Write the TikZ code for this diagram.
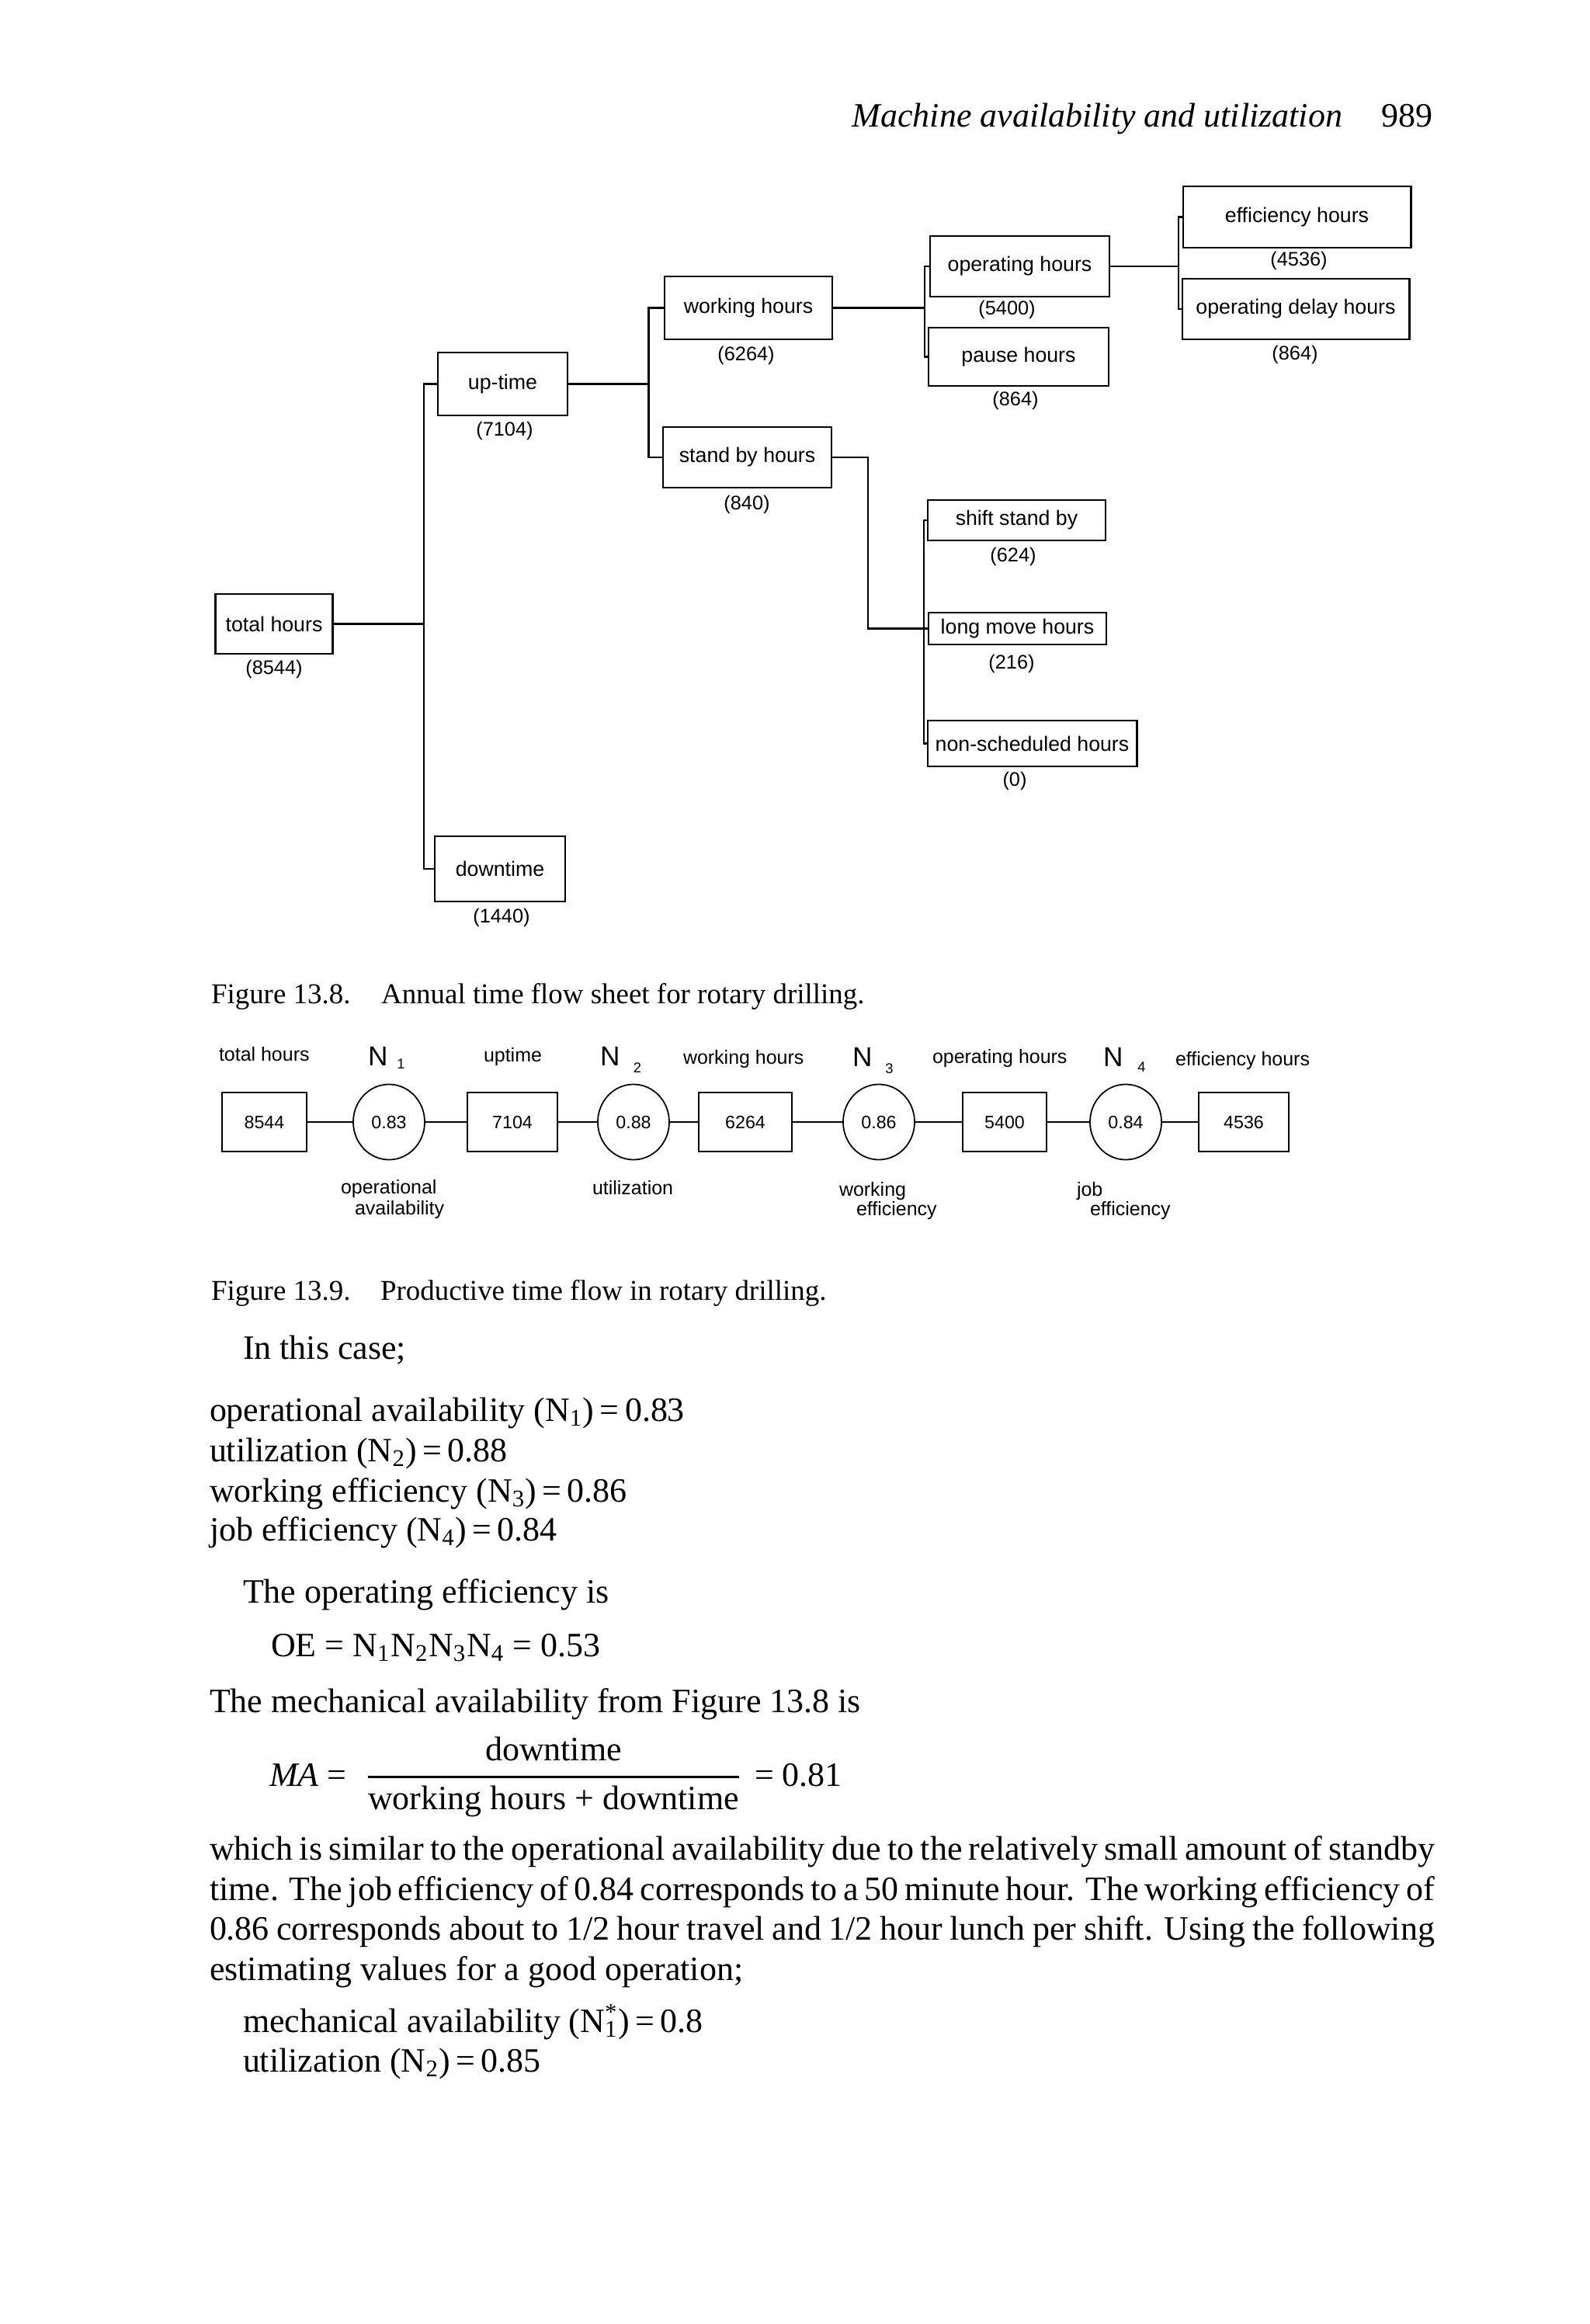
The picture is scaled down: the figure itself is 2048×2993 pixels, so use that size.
\documentclass[tikz,border=0pt]{standalone}
\usepackage{fontspec}
\setmainfont{Liberation Serif}
\newfontfamily\letterfont{Liberation Sans}
\usetikzlibrary{shapes.geometric}

% N with a lowered index, as lettered in the flow chart
\newcommand{\Nsub}[3]{N\hspace{#2}\raisebox{-#3}{\fontsize{5.2}{6}\selectfont #1}}

\begin{document}
\begin{tikzpicture}[x=0.01cm, y=-0.01cm,
    every node/.style={inner sep=0pt, outer sep=0pt},
    treebox/.style={draw, line width=0.8pt, font=\letterfont\fontsize{7.6}{9}\selectfont},
    treenum/.style={font=\letterfont\fontsize{7.2}{9}\selectfont},
    flowbox/.style={draw, line width=0.6pt, minimum height=0.76cm, font=\letterfont\fontsize{6.6}{8}\selectfont},
    ratio/.style={draw, ellipse, line width=0.5pt, minimum width=0.92cm, minimum height=0.97cm, font=\letterfont\fontsize{6.6}{8}\selectfont},
    flowlbl/.style={anchor=base west, font=\letterfont\fontsize{7.1}{9}\selectfont},
    nlbl/.style={anchor=base west, font=\letterfont\fontsize{10}{12}\selectfont},
    body/.style={anchor=base west, font=\fontsize{12.5}{15}\selectfont},
    caption/.style={anchor=base west, font=\fontsize{10.5}{12.6}\selectfont},
    link/.style={line width=0.8pt},
    flowlink/.style={line width=0.6pt}]

\fill[white] (0,0) rectangle (2048,2993);
\useasboundingbox (0,0) rectangle (2048,2993);

% running head
\node[body, anchor=base east] (runhead) at (1729,163) {\textit{Machine availability and utilization}};
\node[body, anchor=base east] (folio) at (1845,163) {989};

% Figure 13.8
\node[treebox, minimum width=1.505cm, minimum height=0.77cm] (total) at (353,803.5) {total hours};
\node[treebox, minimum width=1.67cm, minimum height=0.81cm] (uptime) at (647.5,494.5) {up-time};
\node[treebox, minimum width=1.68cm, minimum height=0.84cm] (downtime) at (644,1119) {downtime};
\node[treebox, minimum width=2.16cm, minimum height=0.81cm] (working) at (964,396.5) {working hours};
\node[treebox, minimum width=2.17cm, minimum height=0.78cm] (standby) at (962.5,589) {stand by hours};
\node[treebox, minimum width=2.31cm, minimum height=0.78cm] (operating) at (1313.5,343) {operating hours};
\node[treebox, minimum width=2.32cm, minimum height=0.75cm] (pause) at (1312,459.5) {pause hours};
\node[treebox, minimum width=2.93cm, minimum height=0.79cm] (efficiency) at (1670.5,279.5) {efficiency hours};
\node[treebox, minimum width=2.92cm, minimum height=0.78cm] (delay) at (1669,398) {operating delay hours};
\node[treebox, minimum width=2.29cm, minimum height=0.52cm] (shift) at (1309.5,670) {shift stand by};
\node[treebox, minimum width=2.29cm, minimum height=0.41cm] (longmove) at (1310.5,809.5) {long move hours};
\node[treebox, minimum width=2.69cm, minimum height=0.59cm] (nonsched) at (1329.5,957.5) {non-scheduled hours};

\node[treenum] (total-h) at (353,862) {(8544)};
\node[treenum] (uptime-h) at (650,555) {(7104)};
\node[treenum] (downtime-h) at (646,1182) {(1440)};
\node[treenum] (working-h) at (961,458) {(6264)};
\node[treenum] (standby-h) at (962,650) {(840)};
\node[treenum] (operating-h) at (1297,399) {(5400)};
\node[treenum] (pause-h) at (1308,516) {(864)};
\node[treenum] (efficiency-h) at (1673,336) {(4536)};
\node[treenum] (delay-h) at (1668,457) {(864)};
\node[treenum] (shift-h) at (1305,717) {(624)};
\node[treenum] (longmove-h) at (1303,855) {(216)};
\node[treenum] (nonsched-h) at (1307,1006) {(0)};

\coordinate (bus1) at (546,0);
\coordinate (bus2) at (835.5,0);
\coordinate (bus3) at (1191,0);
\coordinate (bus4) at (1518,0);
\coordinate (bus5) at (1118,0);
\coordinate (bus6) at (1190,0);

\draw[link] (total.east) -- (total.east -| bus1);
\draw[link] (uptime.west) -- (uptime.west -| bus1) -- (downtime.west -| bus1) -- (downtime.west);
\draw[link] (uptime.east) -- (uptime.east -| bus2);
\draw[link] (working.west) -- (working.west -| bus2) -- (standby.west -| bus2) -- (standby.west);
\draw[link] (working.east) -- (working.east -| bus3);
\draw[link] (operating.west) -- (operating.west -| bus3) -- (pause.west -| bus3) -- (pause.west);
\draw[link] (operating.east) -- (operating.east -| bus4);
\draw[link] (efficiency.west) -- (efficiency.west -| bus4) -- (delay.west -| bus4) -- (delay.west);
\draw[link] (standby.east) -- (standby.east -| bus5) -- (longmove.west -| bus5) -- (longmove.west);
\draw[link] (shift.west) -- (shift.west -| bus6) -- (nonsched.west -| bus6) -- (nonsched.west);

\node[caption] (cap138) at (272,1292) {\makebox[2.19cm][l]{Figure 13.8.}Annual time flow sheet for rotary drilling.};

% Figure 13.9
\node[flowlbl] (lbl-total) at (282,1366) {total hours};
\node[flowlbl] (lbl-uptime) at (623,1367) {uptime};
\node[flowlbl] (lbl-working) at (880,1370) {working hours};
\node[flowlbl] (lbl-operating) at (1201,1369) {operating hours};
\node[flowlbl] (lbl-efficiency) at (1514,1372) {efficiency hours};

\node[nlbl] (n1) at (474,1372) {\Nsub{1}{3.4pt}{1.4pt}};
\node[nlbl] (n2) at (773,1372) {\Nsub{2}{5pt}{2.8pt}};
\node[nlbl] (n3) at (1098,1373) {\Nsub{3}{4.8pt}{2.8pt}};
\node[nlbl] (n4) at (1421,1373) {\Nsub{4}{5.4pt}{2pt}};

\node[flowbox, minimum width=1.09cm] (f8544) at (340.5,1445) {8544};
\node[ratio] (r1) at (501,1445) {0.83};
\node[flowbox, minimum width=1.16cm] (f7104) at (660,1445) {7104};
\node[ratio] (r2) at (816,1445) {0.88};
\node[flowbox, minimum width=1.20cm] (f6264) at (960,1445) {6264};
\node[ratio] (r3) at (1132,1445) {0.86};
\node[flowbox, minimum width=1.08cm] (f5400) at (1294,1445) {5400};
\node[ratio] (r4) at (1450,1445) {0.84};
\node[flowbox, minimum width=1.16cm] (f4536) at (1602,1445) {4536};

\foreach \a/\b in {f8544/r1, r1/f7104, f7104/r2, r2/f6264, f6264/r3, r3/f5400, f5400/r4, r4/f4536}
    \draw[flowlink] (\a) -- (\b);

\node[flowlbl] (lbl-n1a) at (439,1537) {operational};
\node[flowlbl] (lbl-n1b) at (457,1564) {availability};
\node[flowlbl] (lbl-n2) at (763,1538) {utilization};
\node[flowlbl] (lbl-n3a) at (1081,1540) {working};
\node[flowlbl] (lbl-n3b) at (1103,1565) {efficiency};
\node[flowlbl] (lbl-n4a) at (1387,1540) {job};
\node[flowlbl] (lbl-n4b) at (1404,1565) {efficiency};

\node[caption] (cap139) at (272,1674) {\makebox[2.18cm][l]{Figure 13.9.}Productive time flow in rotary drilling.};

% text
\node[body] (incase) at (313,1750) {In this case;};
\node[body] (eq-n1) at (270,1830) {operational availability (N\textsubscript{1})\,=\,0.83};
\node[body] (eq-n2) at (270,1882) {utilization (N\textsubscript{2})\,=\,0.88};
\node[body] (eq-n3) at (270,1934) {working efficiency (N\textsubscript{3})\,=\,0.86};
\node[body] (eq-n4) at (270,1984) {job efficiency (N\textsubscript{4})\,=\,0.84};
\node[body] (oe-intro) at (313,2064) {The operating efficiency is};
\node[body] (oe) at (349,2133) {OE = N\textsubscript{1}N\textsubscript{2}N\textsubscript{3}N\textsubscript{4} = 0.53};
\node[body] (ma-intro) at (270,2205) {The mechanical availability from Figure 13.8 is};

\node[body] (ma) at (347,2300) {\textit{MA} =};
\node[body, anchor=base] (ma-num) at (713,2267) {downtime};
\node[body, anchor=base] (ma-den) at (713,2330) {working hours + downtime};
\draw[line width=0.6pt] ([yshift=0.11cm]ma-den.north west) -- ([yshift=0.11cm]ma-den.north east);
\node[body] (ma-val) at (972,2300) {= 0.81};

\node[body] (par1) at (270,2395) {\makebox[15.77cm][s]{which is similar to the operational availability due to the relatively small amount of standby}};
\node[body] (par2) at (270,2447) {\makebox[15.77cm][s]{time. The job efficiency of 0.84 corresponds to a 50 minute hour. The working efficiency of}};
\node[body] (par3) at (270,2498) {\makebox[15.77cm][s]{0.86 corresponds about to 1/2 hour travel and 1/2 hour lunch per shift. Using the following}};
\node[body] (par4) at (270,2550) {estimating values for a good operation;};

\node[body] (est-n1) at (313,2617) {mechanical availability (N\rlap{\textsuperscript{*}}\textsubscript{1})\,=\,0.8};
\node[body] (est-n2) at (313,2668) {utilization (N\textsubscript{2})\,=\,0.85};
\end{tikzpicture}
\end{document}
